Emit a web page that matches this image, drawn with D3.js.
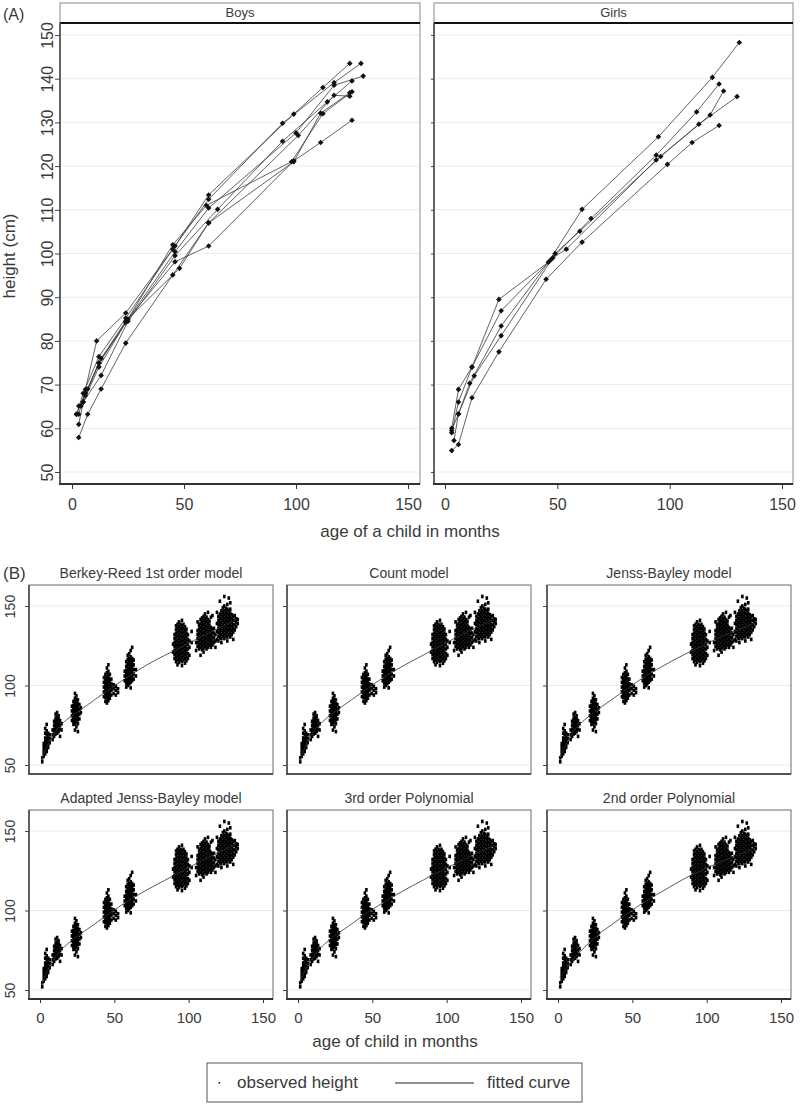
<!DOCTYPE html>
<html><head><meta charset="utf-8">
<script src="https://cdn.jsdelivr.net/npm/d3@7"></script>
<style>
body{margin:0;background:#fff}
svg{display:block}
text{font-family:"Liberation Sans",Arial,sans-serif;fill:#3a3a3a}
</style>
</head><body>
<svg id="chart" width="800" height="1105"></svg>
<script>
// ---------------- DATA ----------------
const facetNames = ["Boys", "Girls"];
const yTicksA = [50,60,70,80,90,100,110,120,130,140,150];
const xTicks = [0,50,100,150];
const yTicksB = [50,100,150];

// (A) individual trajectories [age in months, height in cm]
const boysTrajectories = [
  [[3,63.2],[6,68.9],[11,80.0],[24,86.4],[46,101.7],[61,113.4],[99,131.9],[112,138.0],[124,143.5]],
  [[2,63.2],[5,68.0],[12,76.4],[24,85.2],[45,101.0],[61,112.4],[94,129.8],[117,139.1],[129,143.5]],
  [[3,65.1],[6,67.5],[12,74.9],[24,84.2],[46,100.4],[61,110.4],[100,127.6],[117,138.5],[130,140.6]],
  [[3,60.9],[5,66.0],[13,72.1],[25,84.5],[46,99.5],[65,110.1],[94,125.7],[114,134.7],[125,139.5]],
  [[3,57.9],[7,63.2],[13,69.0],[24,79.5],[45,95.1],[61,107.0],[99,121.0],[111,132.1],[124,136.8]],
  [[4,65.1],[7,69.0],[12,75.0],[25,85.0],[46,98.1],[61,101.7],[99,121.2],[111,125.4],[125,130.5]],
  [[2,63.2],[6,68.0],[13,76.0],[24,84.5],[48,96.6],[61,107.0],[101,127.0],[117,136.2],[124,136.0]],
  [[5,66.0],[12,74.0],[45,102.0],[60,111.0],[98,121.0],[112,132.0],[125,137.0]]
];
const girlsTrajectories = [
  [[3,60.0],[6,68.9],[12,74.0],[24,89.5],[46,98.0],[61,110.1],[95,126.7],[119,140.3],[131,148.3]],
  [[3,59.0],[6,66.0],[12,74.0],[25,86.9],[47,98.5],[65,108.0],[94,122.5],[112,132.4],[122,138.8]],
  [[3,59.5],[6,63.3],[11,70.3],[25,83.4],[49,100.0],[60,105.1],[96,122.2],[118,131.7],[124,137.2]],
  [[4,57.2],[6,63.3],[13,72.0],[25,81.2],[48,99.0],[54,101.0],[94,121.4],[113,129.6],[130,135.9]],
  [[3,54.9],[6,56.3],[12,67.0],[24,77.5],[45,94.1],[61,102.6],[99,120.4],[110,125.4],[122,129.3]]
];

// (B) model names and fitted curves
const modelNames = ["Berkey-Reed 1st order model","Count model","Jenss-Bayley model",
                    "Adapted Jenss-Bayley model","3rd order Polynomial","2nd order Polynomial"];
const fittedAges = [1,3,6,12,18,24,36,48,60,72,84,96,108,120,132];
const fittedBerkeyReed  = [53,58,64,73,78.5,82.5,90.5,98.5,106,113,119,124.5,130.5,136,141.5];
const fittedCount       = [52,57,64,73,78.5,83,91,99,106.5,113,119,125,131,136.5,141.5];
const fittedJenssBayley = [54,58,64,73,78.5,83,91,99,106.5,113,119,124.5,130,134.5,139];
const fittedAdaptedJB   = [53,58,64,73,78.5,83,91,99,106.5,113,119,125,131,136.5,142];
const fittedPoly3       = [55,59,64.5,73,79,83.5,91.5,99.5,106.5,113,119,125,130.5,136,141];
const fittedPoly2       = [58,60,64,71,77,82.5,91,99,106.5,113,119.5,125,130,134.5,139];
const fittedHeights = [fittedBerkeyReed, fittedCount, fittedJenssBayley, fittedAdaptedJB, fittedPoly3, fittedPoly2];

// (B) observed heights, listed as [age, [heights at that age]] (same in every panel)
const observedVisit3m = [
  [1.5,[52,54.5]],[2.5,[55.5,57.5,59.5,61.5,63.5]],[3.5,[57,59,61,63,65,67,70,73]],
  [4.5,[58.5,60.5,62.5,64.5,66.5,69,71.5,75.5]],[5.5,[61,63,65,67.5,70]],[6.5,[64,66.5,69]]
];
const observedVisit12m = [
  [8.5,[66,69,72]],[9.5,[68,70.5,72.5,75,77.5]],[10.5,[69.5,71.5,73.5,75.5,77.5,79.5,82]],
  [11.5,[70,72,74,76,78,80,83]],[12.5,[71,73,75,77,79,81]],[13.5,[68,72.5,75,78]],[14.5,[72,76]]
];
const observedVisit24m = [
  [21.5,[78,81,84,87]],[22.5,[75.5,77.5,79.5,81.5,83.5,85.5,87.5,90]],
  [23.5,[72,76,78,80,82,84,86,88,90,92,95]],[24.5,[74,77,79,81,83,85,87,89,91,93.5]],
  [25.5,[71,76,78.5,80.5,82.5,84.5,86.5,88.5,91]],[26.5,[79,82,85,88]],[27.5,[83,86]]
];
const observedVisit46m = [
  [43,[93,96,99,102,105]],[44,[90,92.5,94.5,96.5,98.5,100.5,102.5,104.5,107]],
  [45,[89,91.5,93.5,95.5,97.5,99.5,101.5,103.5,105.5,108,111]],
  [46,[90.5,92.5,94.5,96.5,98.5,100.5,102.5,104.5,106.5,109,113]],
  [47,[92,94,96,98,100,102,104,107]],[48,[94,97,99,101,104]],[49.5,[95,98,100.5]],
  [51,[94,97,99.5]],[52.5,[95.5,98]]
];
const observedVisit62m = [
  [57,[103,106,109]],[58,[99,101.5,103.5,105.5,107.5,109.5,112,115]],
  [59,[100,102,104,106,108,110,112,114,116.5,119]],[60,[101,103,105,107,109,111,113,115,117,120]],
  [61,[98.5,102,104,106,108,110,112,114,116,118,122]],[62,[103,105,107,109,111,113,115,117,124]],
  [63,[104,107,110,113,116]],[64.5,[106,110]]
];
const observedVisit96m = [
  [89.5,[121,126]],[90.5,[117,119.5,122,124.5,127,129.5,132]],
  [91.5,[115,117.5,120,122.5,125,127.5,130,132.5,135,137.5]],
  [92.5,[113,116,118.5,121,123.5,126,128.5,131,133.5,136,138.5]],
  [93.5,[114.5,117,119.5,122,124.5,127,129.5,132,134.5,137,140]],
  [94.5,[116,118.5,121,123.5,126,128.5,131,133.5,136,138.5]],
  [95.5,[112.5,115,117.5,120,122.5,125,127.5,130,132.5,135,137.5,141]],
  [96.5,[116,118.5,121,123.5,126,128.5,131,133.5,136,138.5]],
  [97.5,[114,117,119.5,122,124.5,127,129.5,132,134.5,137]],
  [98.5,[115.5,118,120.5,123,125.5,128,130.5,133,135.5]],
  [99.5,[117,120,123,126,129,132]],[100.5,[119,124,128]],[102,[127,134]]
];
const observedVisit112m = [
  [105,[122,127]],[106,[124.5,127,129.5,132,134.5,140]],[107,[123,125.5,128,130.5,133,135.5,138]],
  [108,[119,124,126.5,129,131.5,134,136.5,139,141.5]],[109,[122.5,125,127.5,130,132.5,135,137.5,140,142.5]],
  [110,[121,123.5,126,128.5,131,133.5,136,138.5,141,143.5]],[111,[124.5,127,129.5,132,134.5,137,139.5,142,145]],
  [112,[123,125.5,128,130.5,133,135.5,138,140.5,143]],[113,[124,126.5,129,131.5,134,136.5,139,141.5,146]],
  [114,[125.5,128,130.5,133,135.5,138,140.5]],[115,[124,126.5,129,131.5,134,136.5,143]],
  [116,[125.5,128,130.5,133,135.5,144]],[117,[127,130,133,136]],[118,[124,128,132]],[119,[129]]
];
const observedVisit126m = [
  [119,[134,139,146]],[120,[128,131,133.5,136,138.5,141,143.5]],[121,[130,132.5,135,137.5,140,142.5,145,153]],
  [122,[127,129.5,132,134.5,137,139.5,142,144.5,147]],[123,[131,133.5,136,138.5,141,143.5,146,149]],
  [124,[129.5,132,134.5,137,139.5,142,144.5,147,150,156]],[125,[131,133.5,136,138.5,141,143.5,146,148.5]],
  [126,[128,130.5,133,135.5,138,140.5,143,145.5,148,151]],[127,[132,134.5,137,139.5,142,144.5,147,155]],
  [128,[130.5,133,135.5,138,140.5,143,145.5,148,152]],[129,[132,134.5,137,139.5,142,144.5]],
  [130,[129,133.5,136,138.5,141,143.5]],[131,[135,138,141,144]],[132,[137,140,142]],[133,[139,141.5]]
];
const observedVisits = [observedVisit3m, observedVisit12m, observedVisit24m, observedVisit46m,
  observedVisit62m, observedVisit96m, observedVisit112m, observedVisit126m];
const observedHeights = observedVisits.flat().flatMap(([age, hs]) => hs.map(h => [age, h]));

// ---------------- DRAW ----------------
const svg = d3.select("#chart");
const FONT = '"Liberation Sans", Arial, sans-serif';

// ===== Panel (A) =====
svg.append("text").attr("x",3).attr("y",20).attr("font-size",16).text("(A)");

const yA = d3.scaleLinear().domain([50,150]).range([472,35]);
const facets = [
  {name: facetNames[0], data: boysTrajectories, x0: 60, x1: 420, xr: [72,408], yLabels: true},
  {name: facetNames[1], data: girlsTrajectories, x0: 434, x1: 793, xr: [445,782], yLabels: false}
];
const stripTop = 3, stripBottom = 23, plotBottom = 484;

facets.forEach(f => {
  const x = d3.scaleLinear().domain([0,150]).range(f.xr);
  const g = svg.append("g");
  g.selectAll("line.grid").data(yTicksA).join("line")
    .attr("x1", f.x0).attr("x2", f.x1)
    .attr("y1", d => yA(d)).attr("y2", d => yA(d))
    .attr("stroke", "#ececec").attr("stroke-width", 1);
  g.append("rect").attr("x", f.x0).attr("y", stripTop)
    .attr("width", f.x1 - f.x0).attr("height", plotBottom - stripTop)
    .attr("fill", "none").attr("stroke", "#8a8a8a").attr("stroke-width", 1);
  g.append("line").attr("x1", f.x0).attr("x2", f.x1).attr("y1", stripBottom).attr("y2", stripBottom)
    .attr("stroke", "#111").attr("stroke-width", 2);
  g.append("text").attr("x", (f.x0 + f.x1) / 2).attr("y", 17).attr("text-anchor", "middle")
    .attr("font-size", 13).text(f.name);
  g.append("line").attr("x1", f.x0).attr("x2", f.x0).attr("y1", stripBottom).attr("y2", plotBottom)
    .attr("stroke", "#444").attr("stroke-width", 1.5);
  g.append("line").attr("x1", f.x0 - 1).attr("x2", f.x1).attr("y1", plotBottom).attr("y2", plotBottom)
    .attr("stroke", "#333").attr("stroke-width", 2);

  const ya = g.append("g").attr("transform", `translate(${f.x0},0)`)
    .call(d3.axisLeft(yA).tickValues(yTicksA).tickSize(f.yLabels ? 5 : 3)
      .tickFormat(f.yLabels ? d3.format("d") : () => ""));
  ya.select(".domain").remove();
  ya.selectAll(".tick line").attr("stroke", "#444");
  ya.selectAll(".tick text").attr("font-size", 16).attr("font-family", FONT).attr("fill", "#3a3a3a")
    .attr("text-anchor", "middle").attr("transform", "rotate(-90)")
    .attr("x", 0).attr("y", -7).attr("dy", 0);

  const xa = g.append("g").attr("transform", `translate(0,${plotBottom})`)
    .call(d3.axisBottom(x).tickValues(xTicks).tickSize(5).tickPadding(10));
  xa.select(".domain").remove();
  xa.selectAll(".tick line").attr("stroke", "#333");
  xa.selectAll(".tick text").attr("font-size", 16).attr("font-family", FONT).attr("fill", "#3a3a3a");

  const line = d3.line().x(d => x(d[0])).y(d => yA(d[1]));
  g.selectAll("path.traj").data(f.data).join("path")
    .attr("d", line).attr("fill", "none").attr("stroke", "#3a3a3a").attr("stroke-width", 0.8);
  g.selectAll("g.pts").data(f.data).join("g")
    .selectAll("path").data(d => d).join("path")
    .attr("transform", d => `translate(${x(d[0])},${yA(d[1])})`)
    .attr("d", d3.symbol().type(d3.symbolDiamond2).size(20)).attr("fill", "#111");
});

svg.append("text").attr("transform", "translate(15,256) rotate(-90)")
  .attr("text-anchor", "middle").attr("font-size", 17).text("height (cm)");
svg.append("text").attr("x", 410).attr("y", 537).attr("text-anchor", "middle")
  .attr("font-size", 17).text("age of a child in months");

// ===== Panel (B) =====
svg.append("text").attr("x",3).attr("y",579).attr("font-size",17).text("(B)");

const colLeft = [29, 287, 547], rowTop = [585, 810];
const boxW = 244, boxH = 189;

modelNames.forEach((name, i) => {
  const col = i % 3, row = Math.floor(i / 3);
  const L = colLeft[col], T = rowTop[row];
  const x = d3.scaleLinear().domain([0,150]).range([L + 11, L + 234]);
  const y = d3.scaleLinear().domain([50,150]).range([T + 180, T + 21]);
  const g = svg.append("g");

  g.selectAll("line.grid").data(yTicksB).join("line")
    .attr("x1", L).attr("x2", L + boxW).attr("y1", d => y(d)).attr("y2", d => y(d))
    .attr("stroke", "#ececec");
  g.append("rect").attr("x", L).attr("y", T).attr("width", boxW).attr("height", boxH)
    .attr("fill", "none").attr("stroke", "#6a6a6a").attr("stroke-width", 1);
  g.append("line").attr("x1", L).attr("x2", L).attr("y1", T).attr("y2", T + boxH)
    .attr("stroke", "#444").attr("stroke-width", 1.5);
  g.append("line").attr("x1", L - 1).attr("x2", L + boxW).attr("y1", T + boxH).attr("y2", T + boxH)
    .attr("stroke", "#333").attr("stroke-width", row === 1 ? 2 : 1.5);

  g.append("text").attr("x", L + boxW / 2).attr("y", T - 7).attr("text-anchor", "middle")
    .attr("font-size", 14).text(name);

  const ya = g.append("g").attr("transform", `translate(${L},0)`)
    .call(d3.axisLeft(y).tickValues(yTicksB).tickSize(4)
      .tickFormat(col === 0 ? d3.format("d") : () => ""));
  ya.select(".domain").remove();
  ya.selectAll(".tick line").attr("stroke", "#444");
  ya.selectAll(".tick text").attr("font-size", 14).attr("font-family", FONT).attr("fill", "#3a3a3a")
    .attr("text-anchor", "middle").attr("transform", "rotate(-90)")
    .attr("x", 0).attr("y", -14).attr("dy", 0);

  if (row === 1) {
    const xa = g.append("g").attr("transform", `translate(0,${T + boxH})`)
      .call(d3.axisBottom(x).tickValues(xTicks).tickSize(4).tickPadding(9));
    xa.select(".domain").remove();
    xa.selectAll(".tick line").attr("stroke", "#333");
    xa.selectAll(".tick text").attr("font-size", 15).attr("font-family", FONT).attr("fill", "#3a3a3a");
  }

  g.selectAll("rect.obs").data(observedHeights).join("rect")
    .attr("x", d => x(d[0]) - 1.3).attr("y", d => y(d[1]) - 1.8)
    .attr("width", 2.6).attr("height", 3.6).attr("fill", "#000");
  const fit = fittedAges.map((a, k) => [a, fittedHeights[i][k]]);
  g.append("path").datum(fit)
    .attr("d", d3.line().curve(d3.curveMonotoneX).x(d => x(d[0])).y(d => y(d[1])))
    .attr("fill", "none").attr("stroke", "#333").attr("stroke-width", 0.8);
});

svg.append("text").attr("x", 395).attr("y", 1047).attr("text-anchor", "middle")
  .attr("font-size", 17).text("age of child in months");

const lg = svg.append("g");
lg.append("rect").attr("x", 207).attr("y", 1063).attr("width", 375).attr("height", 39)
  .attr("fill", "#fff").attr("stroke", "#555");
lg.append("rect").attr("x", 218.5).attr("y", 1082).attr("width", 1.6).attr("height", 1.6).attr("fill", "#222");
lg.append("text").attr("x", 237).attr("y", 1088).attr("font-size", 17).text("observed height");
lg.append("line").attr("x1", 395).attr("x2", 474).attr("y1", 1083).attr("y2", 1083)
  .attr("stroke", "#222").attr("stroke-width", 1);
lg.append("text").attr("x", 487).attr("y", 1088).attr("font-size", 17).text("fitted curve");
</script>
</body></html>
